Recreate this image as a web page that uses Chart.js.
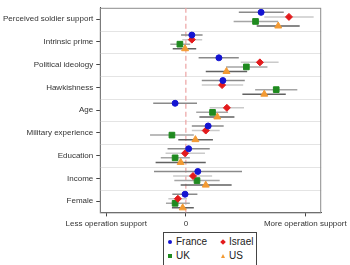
<!DOCTYPE html>
<html>
<head>
<meta charset="utf-8">
<script src="https://cdn.jsdelivr.net/npm/chart.js@4.4.1/dist/chart.umd.min.js"></script>
<style>
  body { margin: 0; background: #fff; }
  #wrap { position: relative; width: 350px; height: 265px; }
  #chart-box { position: absolute; left: 0; top: 0; width: 350px; height: 232px; }
  #legend {
    position: absolute; left: 163px; top: 232px; width: 94px; height: 34px;
    border: 1px solid #444; box-sizing: border-box; background: #fff;
    font: 10px "Liberation Sans", Arial, sans-serif; color: #222;
  }
  #legend .item { position: absolute; height: 12px; line-height: 12px; }
  #legend .mk { position: absolute; left: 0; top: 4px; }
  #legend .txt { position: absolute; left: 8px; top: 0; white-space: nowrap; }
  .circle { width: 4px; height: 4px; border-radius: 50%; background: #1414d2; }
  .diamond { width: 4px; height: 4px; background: #e31a1c; transform: rotate(45deg); }
  .square { width: 4px; height: 4px; background: #1f8a1f; }
  .tri { width: 0; height: 0; border-left: 2.5px solid transparent; border-right: 2.5px solid transparent; border-bottom: 4px solid #f39a33; }
</style>
</head>
<body>
<div id="wrap">
  <div id="chart-box"><canvas id="coef-chart"></canvas></div>
  <div id="legend">
    <div class="item" style="left:4px; top:3px"><div class="mk circle"></div><span class="txt">France</span></div>
    <div class="item" style="left:57px; top:3px"><div class="mk diamond"></div><span class="txt">Israel</span></div>
    <div class="item" style="left:4px; top:17px"><div class="mk square"></div><span class="txt">UK</span></div>
    <div class="item" style="left:57px; top:17px"><div class="mk tri"></div><span class="txt">US</span></div>
  </div>
</div>
<script>
// categories, top to bottom
const categories = ['Perceived soldier support', 'Intrinsic prime', 'Political ideology', 'Hawkishness',
    'Age', 'Military experience', 'Education', 'Income', 'Female']

const xTickValues = [-0.2, 0, 0.3]
const xTickLabels = ['Less operation support', '0', 'More operation support']

// estimates and interval ends, same order as categories
const franceEst = [0.189, 0.015, 0.083, 0.093, -0.027, 0.056, 0.007, 0.030, -0.002]
const franceLo  = [0.133, -0.012, 0.032, 0.040, -0.082, 0.015, -0.046, -0.080, -0.034]
const franceHi  = [0.246, 0.042, 0.133, 0.148, 0.028, 0.095, 0.060, 0.141, 0.029]

const israelEst = [0.259, 0.015, 0.186, 0.091, 0.103, 0.050, -0.002, 0.018, -0.020]
const israelLo  = [0.197, -0.009, 0.138, 0.040, 0.060, 0.015, -0.051, -0.032, -0.044]
const israelHi  = [0.321, 0.041, 0.233, 0.144, 0.146, 0.085, 0.048, 0.066, 0.003]

const ukEst = [0.175, -0.015, 0.152, 0.227, 0.067, -0.035, -0.027, 0.028, -0.027]
const ukLo  = [0.120, -0.039, 0.101, 0.174, 0.026, -0.090, -0.063, -0.029, -0.050]
const ukHi  = [0.232, 0.011, 0.205, 0.280, 0.106, 0.020, 0.010, 0.085, 0.010]

const usEst = [0.232, -0.002, 0.102, 0.197, 0.079, 0.024, -0.013, 0.050, -0.008]
const usLo  = [0.178, -0.033, 0.050, 0.142, 0.034, -0.019, -0.076, -0.013, -0.035]
const usHi  = [0.286, 0.026, 0.154, 0.251, 0.122, 0.068, 0.050, 0.115, 0.020]

function pointsOf(est, shift) {
    return est.map((v, i) => ({x: v, y: i + shift}))
}
function barsOf(lo, hi, shift) {
    let out = []
    for (let i = 0; i < lo.length; i++) {
        out.push({x: lo[i], y: i + shift}, {x: hi[i], y: i + shift}, {x: null, y: null})
    }
    return out
}
function barSet(lo, hi, shift, color) {
    return {type: 'scatter', showLine: true, data: barsOf(lo, hi, shift), borderColor: color,
        borderWidth: 1.5, pointRadius: 0, spanGaps: false, order: 2}
}
function pointSet(label, est, shift, color, style, r) {
    return {type: 'scatter', label: label, data: pointsOf(est, shift), backgroundColor: color,
        borderColor: color, borderWidth: 1, pointStyle: style, pointRadius: r, order: 0}
}

const series = [
    {label: 'France', est: franceEst, lo: franceLo, hi: franceHi, shift: -0.3, color: '#1414d2', bar: '#8a8a8a', style: 'circle', r: 3},
    {label: 'Israel', est: israelEst, lo: israelLo, hi: israelHi, shift: -0.1, color: '#e31a1c', bar: '#cacaca', style: 'rectRot', r: 3.5},
    {label: 'UK', est: ukEst, lo: ukLo, hi: ukHi, shift: 0.1, color: '#1f8a1f', bar: '#a5a5a5', style: 'rect', r: 4},
    {label: 'US', est: usEst, lo: usLo, hi: usHi, shift: 0.3, color: '#f39a33', bar: '#626262', style: 'triangle', r: 4}
]

let datasets = []
// zero reference line
datasets.push({type: 'scatter', showLine: true, data: [{x: 0, y: -0.5}, {x: 0, y: 8.5}],
    borderColor: '#eca3a3', borderWidth: 1.2, borderDash: [5, 3], pointRadius: 0, order: 3})
series.forEach(s => datasets.push(barSet(s.lo, s.hi, s.shift, s.bar)))
series.forEach(s => datasets.push(pointSet(s.label, s.est, s.shift, s.color, s.style, s.r)))

// box round the plot + light lines between the categories
const frame = {
    id: 'frame',
    beforeDatasetsDraw(chart) {
        const a = chart.chartArea, ctx = chart.ctx, y = chart.scales.y
        ctx.save()
        ctx.strokeStyle = '#e4e4e4'
        ctx.lineWidth = 1
        for (let i = 0; i < categories.length - 1; i++) {
            const py = Math.round(y.getPixelForValue(i + 0.5)) + 0.5
            ctx.beginPath()
            ctx.moveTo(a.left, py)
            ctx.lineTo(a.right, py)
            ctx.stroke()
        }
        ctx.strokeStyle = '#8c8c8c'
        ctx.strokeRect(a.left, a.top + 0.5, a.right - a.left - 0.5, a.bottom - a.top)
        ctx.restore()
    }
}

Chart.defaults.font.family = '"Liberation Sans", Arial, sans-serif'
Chart.defaults.font.size = 8
Chart.defaults.color = '#333'

new Chart(document.getElementById('coef-chart'), {
    type: 'scatter',
    data: {datasets: datasets},
    options: {
        responsive: true,
        maintainAspectRatio: false,
        animation: false,
        layout: {padding: {top: 1, right: 0, left: 0, bottom: 0}},
        plugins: {legend: {display: false}, tooltip: {enabled: false}},
        scales: {
            x: {
                type: 'linear', min: -0.215, max: 0.34,
                afterBuildTicks: (scale) => { scale.ticks = xTickValues.map(v => ({value: v})) },
                ticks: {callback: (v, i) => xTickLabels[i], padding: 3, maxRotation: 0, autoSkip: false, color: '#333'},
                grid: {drawOnChartArea: false, tickLength: 4, tickColor: '#444'},
                border: {color: '#444', width: 1}
            },
            y: {
                type: 'linear', min: -0.5, max: 8.5, reverse: true,
                afterBuildTicks: (scale) => { scale.ticks = categories.map((c, i) => ({value: i})) },
                ticks: {callback: (v) => categories[v], padding: 3, autoSkip: false, color: '#333'},
                grid: {drawOnChartArea: false, tickLength: 4, tickColor: '#444'},
                border: {color: '#444', width: 1}
            }
        }
    },
    plugins: [frame]
})
</script>
</body>
</html>
